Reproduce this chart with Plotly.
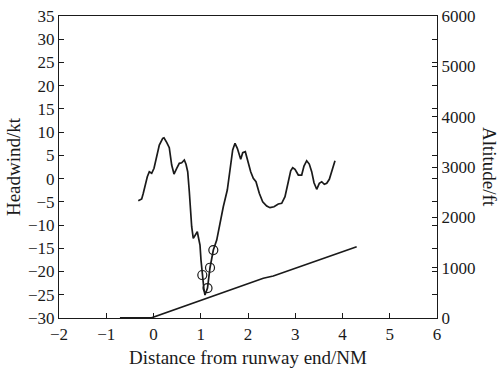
import plotly.graph_objects as go

# Headwind profile (kt) vs distance from runway end (NM)
hw_dist = [-0.322, -0.250, -0.216, -0.180, -0.131, -0.089, -0.038, 0.011, 0.053, 0.123,
           0.195, 0.222, 0.279, 0.334, 0.385, 0.434, 0.491, 0.546, 0.597, 0.652,
           0.688, 0.724, 0.758, 0.794, 0.808, 0.842, 0.893, 0.927, 0.948, 0.984,
           1.005, 1.033, 1.069, 1.090, 1.143, 1.196, 1.266, 1.338, 1.407, 1.477,
           1.562, 1.619, 1.676, 1.725, 1.774, 1.846, 1.888, 1.943, 1.985, 2.057,
           2.112, 2.169, 2.239, 2.311, 2.396, 2.466, 2.550, 2.641, 2.713, 2.783,
           2.853, 2.904, 2.946, 2.995, 3.065, 3.136, 3.185, 3.242, 3.297, 3.348,
           3.397, 3.454, 3.509, 3.560, 3.615, 3.666, 3.721, 3.771, 3.841]
hw_kt = [-4.76, -4.39, -3.16, -1.38, 0.41, 1.49, 1.14, 2.22, 4.37, 7.23,
         8.67, 8.80, 7.81, 6.65, 2.93, 0.99, 2.22, 3.29, 3.42, 4.00,
         3.08, 1.49, -2.82, -9.28, -10.35, -12.85, -12.14, -11.43, -12.51, -14.29,
         -17.52, -20.75, -23.98, -25.05, -23.55, -19.18, -15.37, -13.22, -9.28, -6.05,
         -2.45, 1.85, 6.16, 7.60, 6.52, 4.15, 5.57, 5.79, 4.00, 1.49,
         0.06, -0.67, -3.16, -4.97, -5.90, -6.26, -6.05, -5.47, -5.32, -3.90,
         -0.67, 1.70, 2.35, 2.00, 0.77, 0.77, 2.71, 3.85, 3.14, 1.49,
         -0.88, -2.30, -1.01, -0.67, -1.23, -1.01, -0.15, 1.49, 3.85]

# Marked points (circles)
mk_dist = [1.033, 1.143, 1.196, 1.266]
mk_kt = [-20.75, -23.55, -19.18, -15.37]

# Altitude profile (ft)
alt_dist = [-0.71, -0.04, 2.324, 2.535, 4.30]
alt_ft = [5, 5, 789, 835, 1417]

x_ticks = [-2, -1, 0, 1, 2, 3, 4, 5, 6]

INK = "#1a1a1a"
FONT = "Liberation Serif"

fig = go.Figure()
fig.add_trace(go.Scatter(x=hw_dist, y=hw_kt, mode="lines",
                         line=dict(color=INK, width=1.7), yaxis="y", showlegend=False))
fig.add_trace(go.Scatter(x=mk_dist, y=mk_kt, mode="markers",
                         marker=dict(symbol="circle-open", size=9, color=INK,
                                     line=dict(width=1.2, color=INK)),
                         yaxis="y", showlegend=False))
fig.add_trace(go.Scatter(x=alt_dist, y=alt_ft, mode="lines",
                         line=dict(color=INK, width=1.7), yaxis="y2", showlegend=False))

axis_common = dict(showline=True, linecolor=INK, linewidth=1.2, ticks="inside",
                   ticklen=5, tickcolor=INK, tickwidth=1, showgrid=False, zeroline=False,
                   automargin=False,
                   tickfont=dict(family=FONT, size=17, color=INK))

fig.update_layout(
    width=500, height=368,
    margin=dict(l=59, r=63, t=16, b=50),
    plot_bgcolor="white", paper_bgcolor="white",
    font=dict(family=FONT, color=INK),
    xaxis=dict(range=[-2, 6], tickvals=x_ticks, mirror=True,
               title=dict(text="Distance from runway end/NM", font=dict(family=FONT, size=19, color=INK),
                          standoff=9),
               **axis_common),
    yaxis=dict(range=[-30, 35], dtick=5, mirror="ticks",
               title=dict(text="Headwind/kt", font=dict(family=FONT, size=19, color=INK),
                          standoff=2),
               **axis_common),
    yaxis2=dict(range=[0, 6000], dtick=1000, overlaying="y", side="right",
                **axis_common),
    annotations=[dict(text="Altitude/ft", textangle=90, xref="paper", yref="paper",
                      x=1.0, xanchor="center", yanchor="middle", xshift=53, y=0.5,
                      showarrow=False,
                      font=dict(family=FONT, size=19, color=INK))],
)

fig.write_html("out.html")
